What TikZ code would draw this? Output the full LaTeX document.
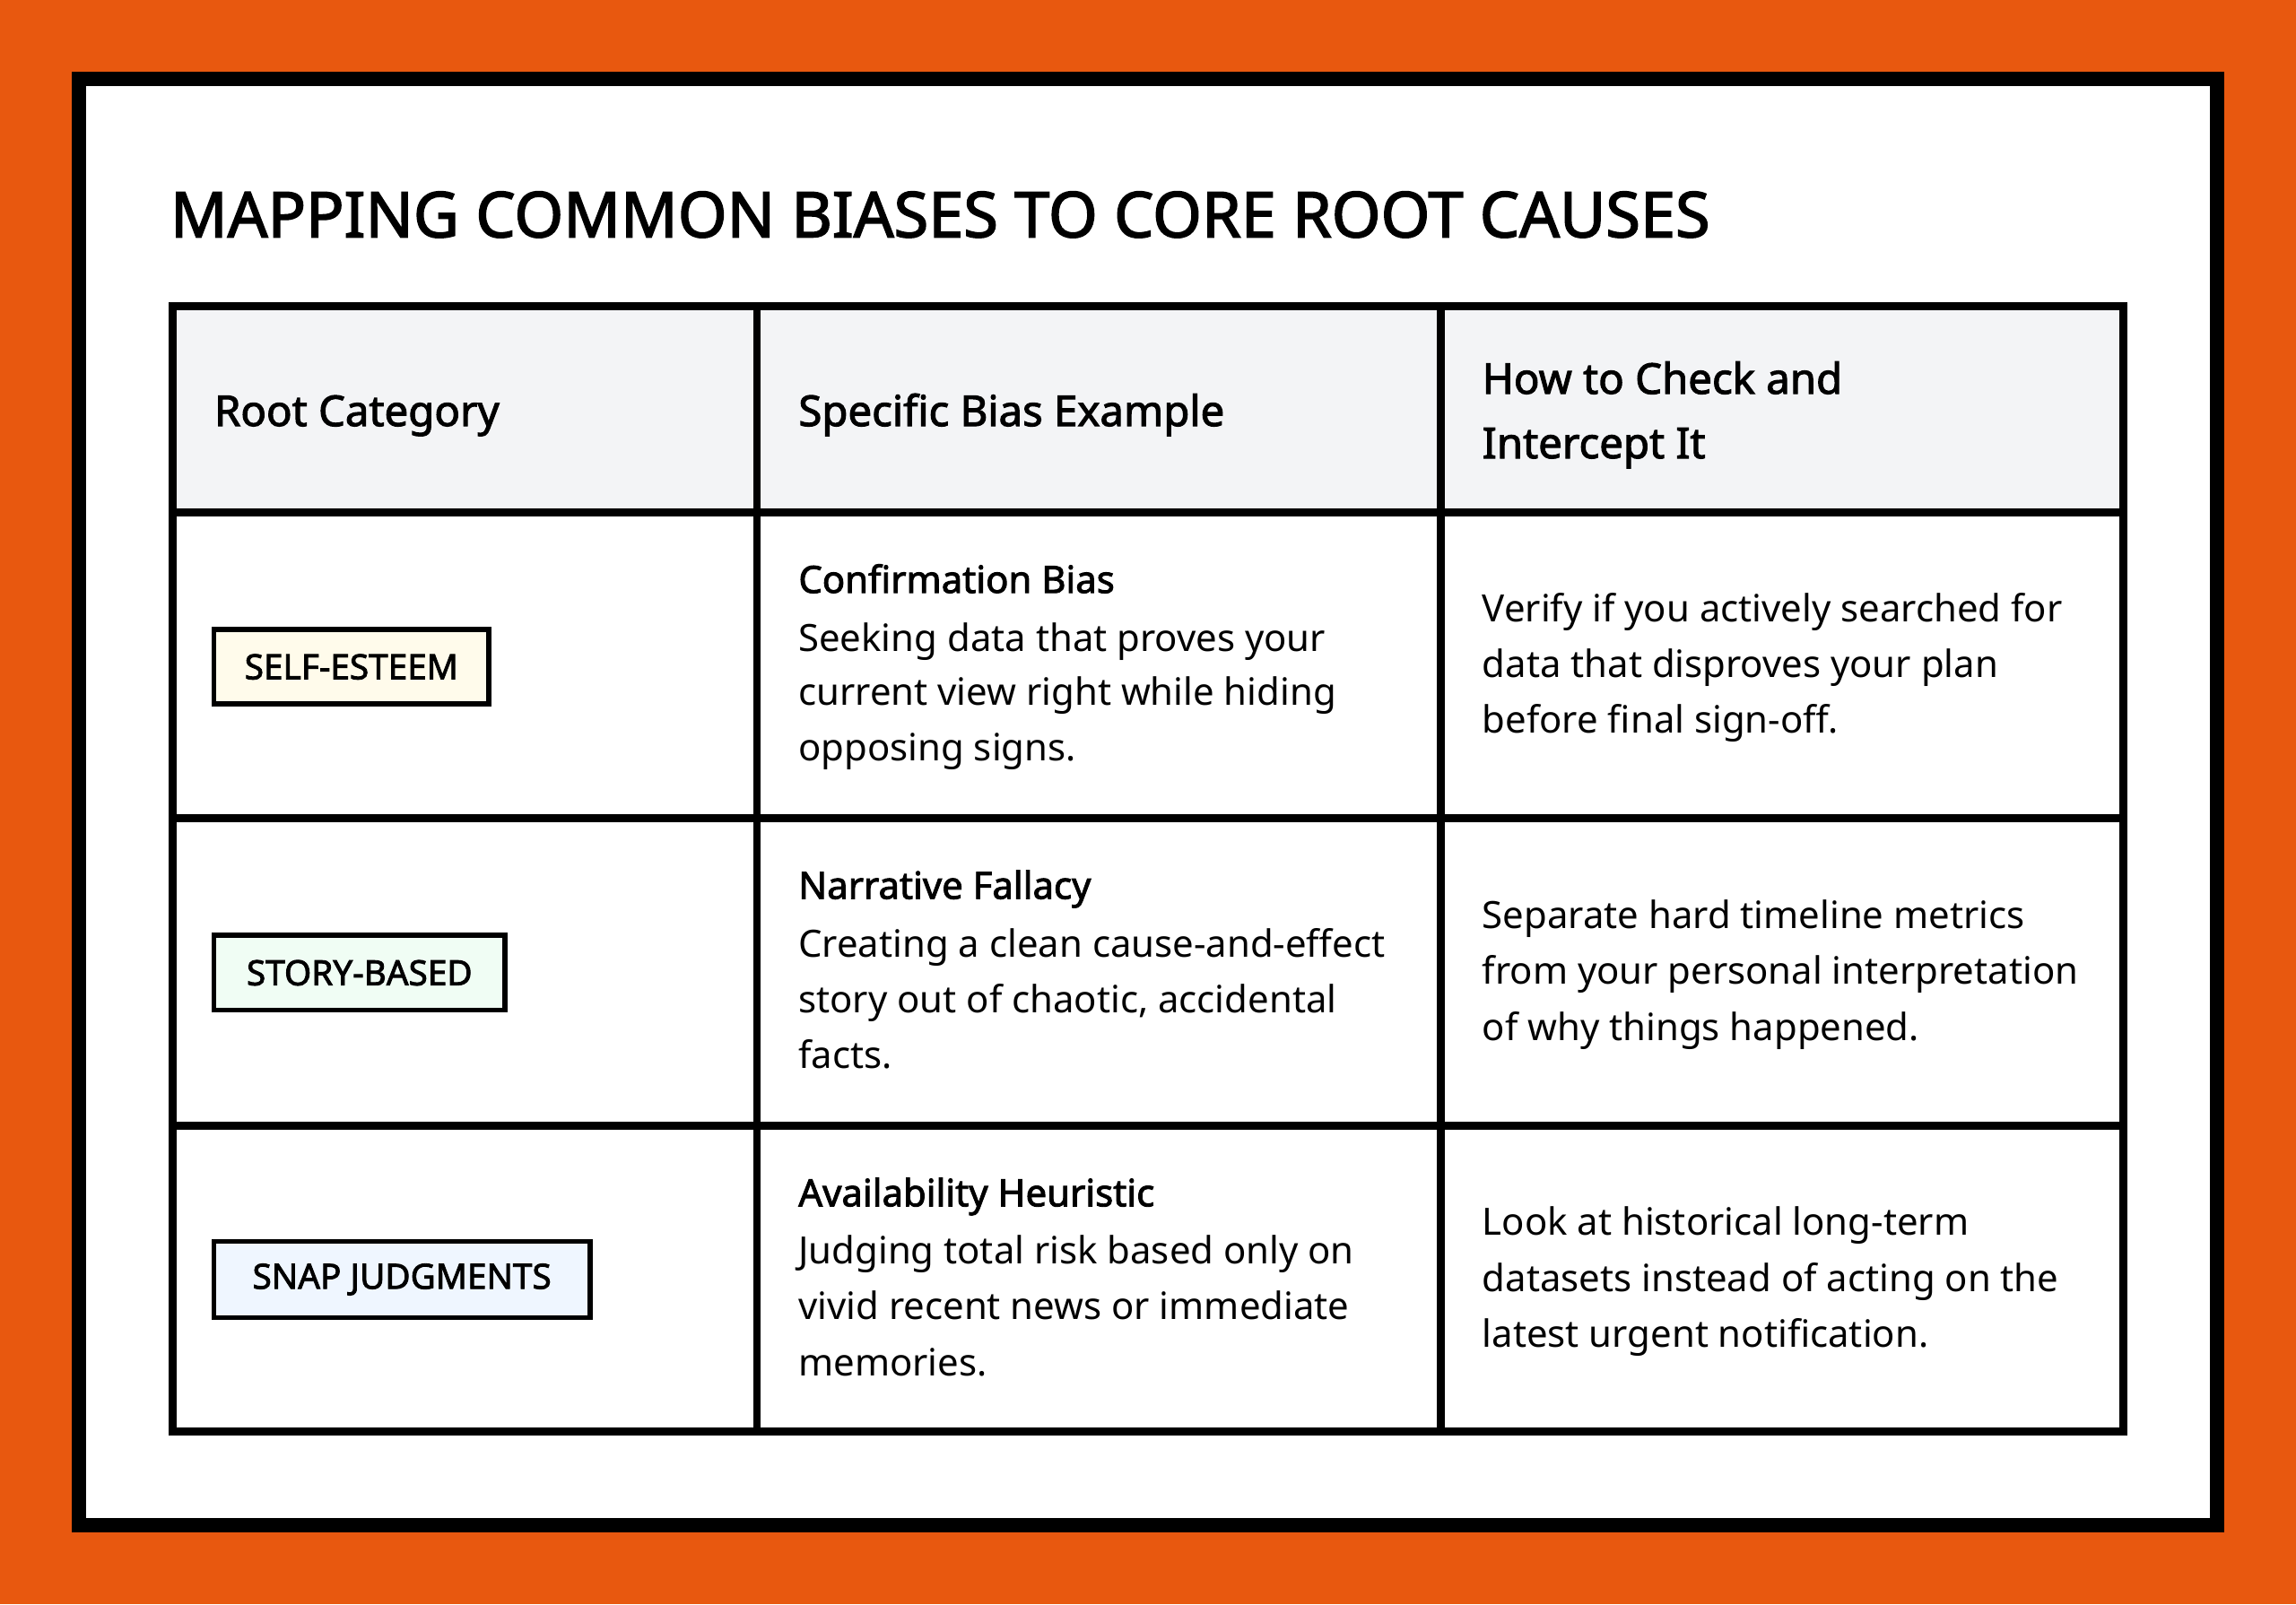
\documentclass[tikz,border=0pt]{standalone}
\usepackage{fontspec}
\setmainfont{Noto Sans}
\newfontfamily\bfn{Noto Sans}[FakeBold=2.2]
\definecolor{bgor}{HTML}{E8580F}
\definecolor{hdr}{HTML}{F3F4F6}
\definecolor{bA}{HTML}{FFFBEB}
\definecolor{bB}{HTML}{F0FDF4}
\definecolor{bC}{HTML}{EFF6FF}
\newcommand{\tl}[4]{\node[txt] (#1) at (#2,#3) {#4};}
\newcommand{\tb}[4]{\node[txt,font=\bfn\fontsize{14.6}{17}\selectfont] (#1) at (#2,#3) {#4};}
\begin{document}
\begin{tikzpicture}[x=0.02cm,y=-0.02cm,
  txt/.style={anchor=base west,inner sep=0pt,font=\fontsize{14.6}{17}\selectfont},
  hd/.style={anchor=base west,inner sep=0pt,font=\bfn\fontsize{16.5}{20}\selectfont},
  badge/.style={draw=black,line width=2pt,inner sep=0pt,font=\bfn\fontsize{13.5}{16}\selectfont},
  grid/.style={line width=3pt}]
\fill[bgor] (0,0) rectangle (1568,1096);
\draw[line width=5.5pt,fill=white] (54,54) rectangle (1514,1042);
\node[anchor=base west,inner sep=0pt,font=\bfn\fontsize{24.5}{28}\selectfont] (title) at (116,162) {MAPPING COMMON BIASES TO CORE ROOT CAUSES};
\fill[hdr] (118,209) rectangle (1450,350);
\draw[grid] (118,350) -- (1450,350);
\draw[grid] (118,559) -- (1450,559);
\draw[grid] (118,769) -- (1450,769);
\draw[grid] (517,209) -- (517,978);
\draw[grid] (984,209) -- (984,978);
\draw[grid] (118,209) rectangle (1450,978);
\node[hd] (h1) at (146,291) {Root Category};
\node[hd] (h2) at (545,291) {Specific Bias Example};
\node[hd] (h3a) at (1012,269) {How to Check and};
\node[hd] (h3b) at (1012,313) {Intercept It};
\node[badge,fill=bA,minimum width=188*0.02cm,minimum height=51*0.02cm] (b1) at (240,455.5) {SELF-ESTEEM};
\node[badge,fill=bB,minimum width=199*0.02cm,minimum height=51*0.02cm] (b2) at (245.5,664.5) {STORY-BASED};
\node[badge,fill=bC,minimum width=257*0.02cm,minimum height=52*0.02cm] (b3) at (274.5,874) {SNAP JUDGMENTS};
\tb{r1a}{545}{405}{Confirmation Bias}
\tl{r1b}{545}{445}{Seeking data that proves your}
\tl{r1c}{545}{482}{current view right while hiding}
\tl{r1d}{545}{520}{opposing signs.}
\tl{s1a}{1012}{425}{Verify if you actively searched for}
\tl{s1b}{1012}{463}{data that disproves your plan}
\tl{s1c}{1012}{501}{before final sign-off.}
\tb{r2a}{545}{614}{Narrative Fallacy}
\tl{r2b}{545}{654}{Creating a clean cause-and-effect}
\tl{r2c}{545}{692}{story out of chaotic, accidental}
\tl{r2d}{545}{730}{facts.}
\tl{s2a}{1012}{634}{Separate hard timeline metrics}
\tl{s2b}{1012}{672}{from your personal interpretation}
\tl{s2c}{1012}{711}{of why things happened.}
\tb{r3a}{545}{824}{Availability Heuristic}
\tl{r3b}{545}{863}{Judging total risk based only on}
\tl{r3c}{545}{901}{vivid recent news or immediate}
\tl{r3d}{545}{940}{memories.}
\tl{s3a}{1012}{844}{Look at historical long-term}
\tl{s3b}{1012}{882}{datasets instead of acting on the}
\tl{s3c}{1012}{920}{latest urgent notification.}
\end{tikzpicture}
\end{document}
